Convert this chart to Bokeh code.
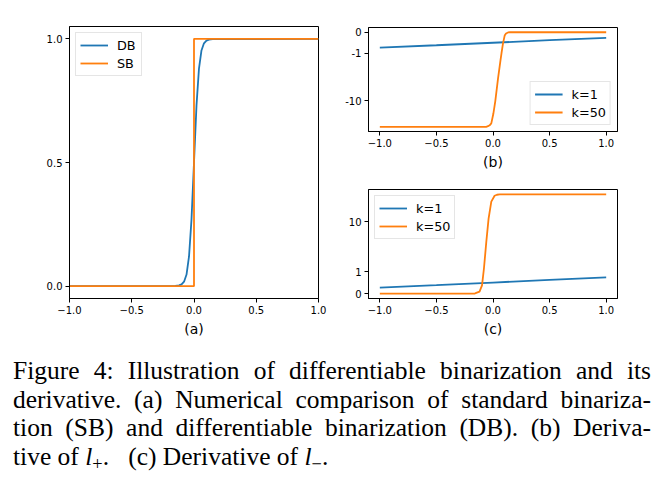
import numpy as np
from bokeh.plotting import figure
from bokeh.layouts import row, column
from bokeh.models import FixedTicker, Div
from bokeh.embed import file_html
from bokeh.resources import INLINE

# ---------------- data ----------------
# (a) standard vs differentiable binarization
a_db_x = [-1.0, -0.15, -0.12, -0.10, -0.08, -0.06, -0.04, -0.02, 0.0, 0.02, 0.04, 0.06, 0.08, 0.10, 0.12, 0.15, 1.0]
a_db_y = [0.0, 0.001, 0.003, 0.007, 0.018, 0.047, 0.12, 0.27, 0.50, 0.73, 0.88, 0.953, 0.982, 0.993, 0.997, 0.999, 1.0]
a_sb_x = [-1.0, 0.0, 0.0, 1.0]
a_sb_y = [0.0, 0.0, 1.0, 1.0]

# (b) derivative of l+
b_k1_x = [-1.0, -0.5, 0.0, 0.5, 1.0]
b_k1_y = [-0.73, -0.62, -0.50, -0.38, -0.27]
b_k50_x = [-1.0, -0.06, -0.044, -0.03, -0.015, 0.003, 0.020, 0.044, 0.067, 0.075, 0.088, 0.103, 0.115, 0.133, 0.15, 1.0]
b_k50_y = [-36.0, -36.0, -35.0, -33.5, -30.5, -19.1, -10.4, -3.5, -1.37, -1.0, -0.54, -0.16, -0.06, -0.01, 0.0, 0.0]

# (c) derivative of l-
c_k1_x = [-1.0, -0.5, 0.0, 0.5, 1.0]
c_k1_y = [0.27, 0.38, 0.50, 0.62, 0.73]
c_k50_x = [-1.0, -0.16, -0.148, -0.119, -0.097, -0.080, -0.059, -0.039, -0.015, 0.014, 0.035, 0.06, 1.0]
c_k50_y = [0.0, 0.0, 0.03, 0.09, 0.37, 1.15, 4.0, 11.7, 25.7, 33.9, 35.5, 36.0, 36.0]

# tick labels
x_ticks = [-1.0, -0.5, 0.0, 0.5, 1.0]
x_tick_labels = ["\u22121.0", "\u22120.5", "0.0", "0.5", "1.0"]
a_y_ticks = [0.0, 0.5, 1.0]
a_y_tick_labels = ["0.0", "0.5", "1.0"]
b_y_ticks = [0.0, -1.0, -10.0]
b_y_tick_labels = ["0", "-1", "-10"]
c_y_ticks = [0.0, 1.0, 10.0]
c_y_tick_labels = ["0", "1", "10"]

BLUE = "#1f77b4"
ORANGE = "#ff7f0e"
FONT = "DejaVu Sans"

# symmetric-log style transform used by the derivative panels
LIN = 0.445
def symlog(v):
    v = np.asarray(v, dtype=float)
    a = np.abs(v)
    return np.where(a <= 1.0, v * LIN, np.sign(v) * (LIN + np.log10(np.maximum(a, 1.0))))


def style(p, xlabel, yticks_pos, ylabels):
    p.outline_line_color = "black"
    p.outline_line_width = 1
    p.xgrid.visible = False
    p.ygrid.visible = False
    for ax in (p.xaxis[0], p.yaxis[0]):
        ax.axis_line_color = "black"
        ax.major_tick_line_color = "black"
        ax.major_tick_in = 0
        ax.major_tick_out = 4
        ax.minor_tick_line_color = None
        ax.major_label_text_font = FONT
        ax.major_label_text_font_size = "10px"
        ax.major_label_text_color = "black"
        ax.major_label_standoff = 3
    p.xaxis[0].ticker = FixedTicker(ticks=x_ticks)
    p.xaxis[0].major_label_overrides = {t: l for t, l in zip(x_ticks, x_tick_labels)}
    p.xaxis[0].axis_label = xlabel
    p.xaxis[0].axis_label_text_font = FONT
    p.xaxis[0].axis_label_text_font_style = "normal"
    p.xaxis[0].axis_label_text_font_size = "14px"
    p.xaxis[0].axis_label_text_color = "black"
    p.xaxis[0].axis_label_standoff = 4
    yt = [float(round(t, 6)) for t in yticks_pos]
    p.yaxis[0].ticker = FixedTicker(ticks=yt)
    p.yaxis[0].major_label_overrides = {t: l for t, l in zip(yt, ylabels)}


def style_legend(p, loc):
    lg = p.legend[0]
    lg.location = loc
    lg.margin = 6
    lg.padding = 4
    lg.spacing = 2
    lg.glyph_width = 28
    lg.glyph_height = 16
    lg.label_height = 16
    lg.label_standoff = 9
    lg.label_text_font = FONT
    lg.label_text_font_size = "12.8px"
    lg.label_text_color = "black"
    lg.border_line_color = "#cccccc"
    lg.border_line_width = 1
    lg.background_fill_alpha = 0.8


# ---------------- panel (a) ----------------
pa = figure(width=332, height=332, x_range=(-1.0, 1.0), y_range=(-0.05, 1.05),
            output_backend="svg", toolbar_location=None,
            min_border_left=61, min_border_right=22, min_border_top=18, min_border_bottom=42)
pa.line(a_db_x, a_db_y, line_color=BLUE, line_width=1.8, legend_label="DB")
pa.line(a_sb_x, a_sb_y, line_color=ORANGE, line_width=1.8, legend_label="SB")
style(pa, "(a)", a_y_ticks, a_y_tick_labels)
style_legend(pa, "top_left")

# ---------------- panel (b) ----------------
pb = figure(width=320, height=164, x_range=(-1.1, 1.1), y_range=(-2.101, 0.100),
            output_backend="svg", toolbar_location=None,
            min_border_left=28, min_border_right=43, min_border_top=19, min_border_bottom=37)
pb.line(b_k1_x, symlog(b_k1_y), line_color=BLUE, line_width=1.8, legend_label="k=1")
pb.line(b_k50_x, symlog(b_k50_y), line_color=ORANGE, line_width=1.8, legend_label="k=50")
style(pb, "(b)", symlog(b_y_ticks), b_y_tick_labels)
style_legend(pb, "bottom_right")

# ---------------- panel (c) ----------------
pc = figure(width=320, height=168, x_range=(-1.1, 1.1), y_range=(-0.100, 2.101),
            output_backend="svg", toolbar_location=None,
            min_border_left=28, min_border_right=43, min_border_top=17, min_border_bottom=42)
pc.line(c_k1_x, symlog(c_k1_y), line_color=BLUE, line_width=1.8, legend_label="k=1")
pc.line(c_k50_x, symlog(c_k50_y), line_color=ORANGE, line_width=1.8, legend_label="k=50")
style(pc, "(c)", symlog(c_y_ticks), c_y_tick_labels)
style_legend(pc, "top_left")

# ---------------- caption ----------------
J = "text-align: justify; text-align-last: justify;"
SUB = "font-size: 0.72em; vertical-align: -0.28em; line-height: 0;"
caption_lines = [
    "Figure 4: Illustration of differentiable binarization and its",
    "derivative. (a) Numerical comparison of standard binariza-",
    "tion (SB) and differentiable binarization (DB). (b) Deriva-",
]
html = ("<div style=\"font-family: 'Liberation Serif'; font-size: 25.5px; line-height: 28.5px; "
        "color: black; width: 638px; margin-left: 5px; padding-top: 17px;\">")
for ln in caption_lines:
    html += f"<div style='{J}'>{ln}</div>"
html += (f"<div>tive of <i>l</i><span style='{SUB}'>+</span>.&ensp;&nbsp;(c) Derivative of "
         f"<i>l</i><span style='{SUB}'>\u2212</span>.</div>")
html += "</div>"
cap = Div(text=html, width=652, height=146, margin=0)

layout = column(row(pa, column(pb, pc, spacing=0), spacing=0), cap, spacing=0,
                margin=(8, 0, 0, 8))

open("out.html", "w").write(file_html(layout, INLINE))
